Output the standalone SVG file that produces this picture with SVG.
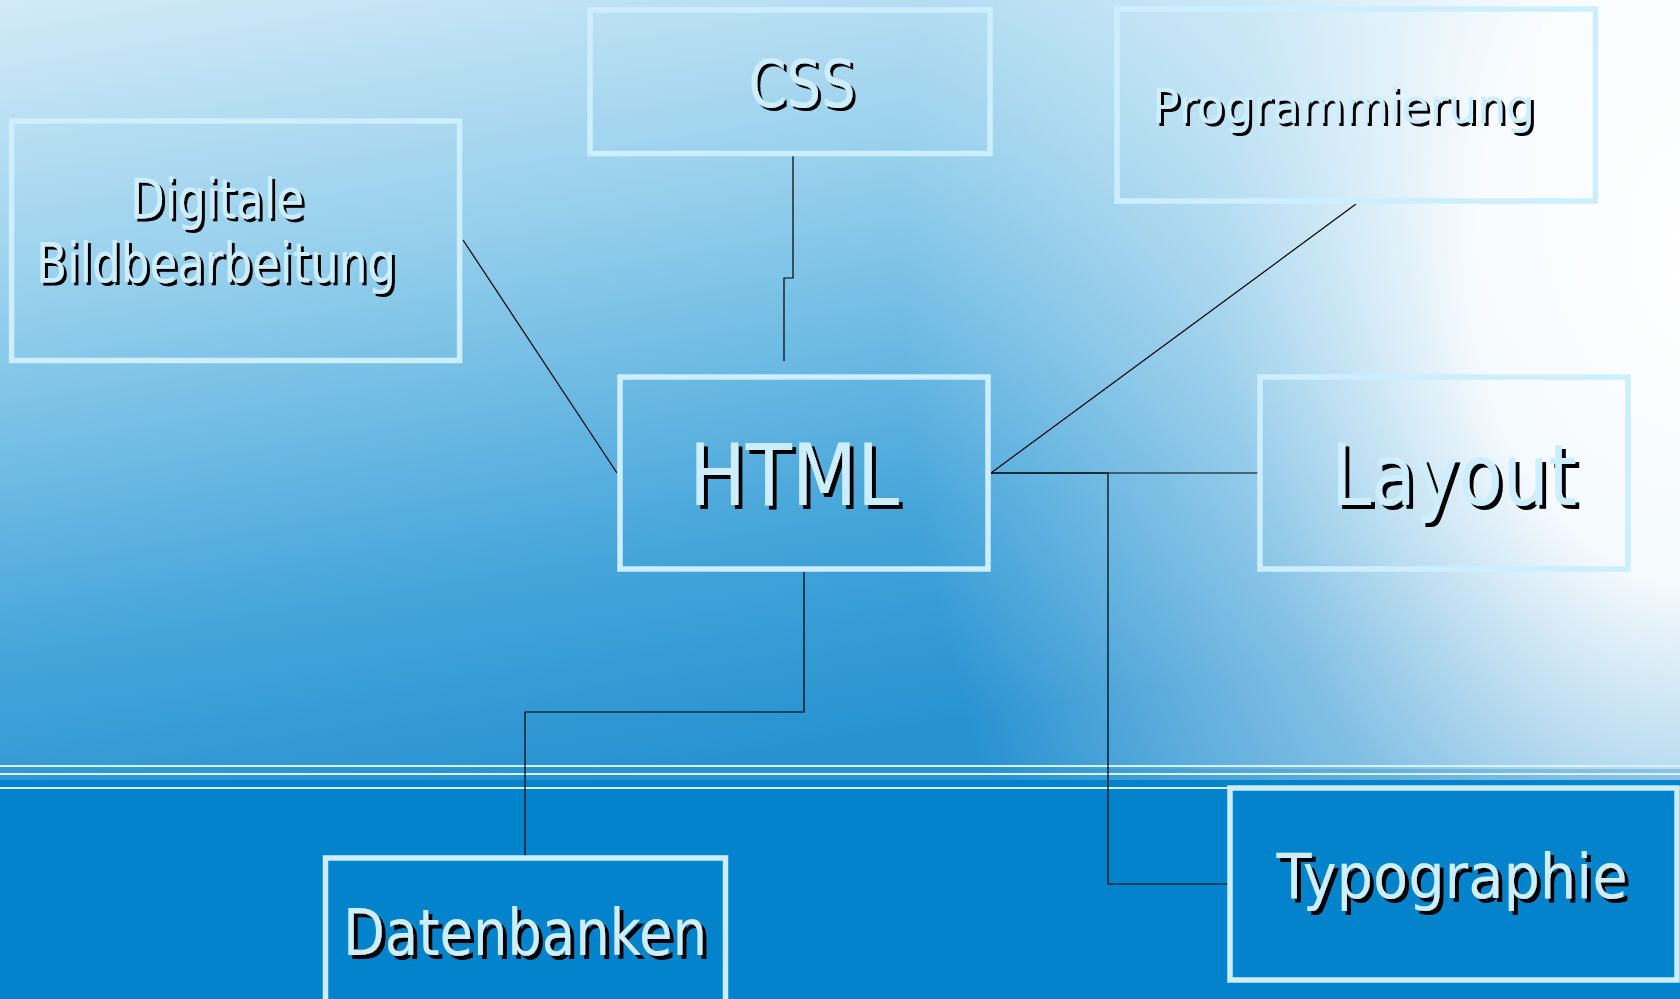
<svg xmlns="http://www.w3.org/2000/svg" width="1680" height="999" viewBox="0 0 1680 999">
<defs>
<linearGradient id="bg" x1="0" y1="0" x2="0.35" y2="1">
<stop offset="0" stop-color="#d2eaf7"/>
<stop offset="0.35" stop-color="#95cfec"/>
<stop offset="0.75" stop-color="#45a5da"/>
<stop offset="1" stop-color="#2892d1"/>
</linearGradient>
<radialGradient id="glow" gradientUnits="userSpaceOnUse" cx="1700" cy="260" r="800" gradientTransform="translate(1700 260) scale(1 1.45) translate(-1700 -260)">
<stop offset="0" stop-color="#ffffff" stop-opacity="1"/>
<stop offset="0.28" stop-color="#ffffff" stop-opacity="0.95"/>
<stop offset="0.6" stop-color="#ffffff" stop-opacity="0.42"/>
<stop offset="1" stop-color="#ffffff" stop-opacity="0"/>
</radialGradient>
<filter id="shadow" x="-10%" y="-30%" width="120%" height="170%">
<feOffset in="SourceAlpha" dx="4" dy="4" result="o"/>
<feMerge><feMergeNode in="o"/><feMergeNode in="SourceGraphic"/></feMerge>
</filter>
<filter id="shadowS" x="-10%" y="-30%" width="120%" height="170%">
<feOffset in="SourceAlpha" dx="3" dy="3" result="o"/>
<feMerge><feMergeNode in="o"/><feMergeNode in="SourceGraphic"/></feMerge>
</filter>
<style>
.box{fill:none;stroke:#cdeeff;stroke-width:5.5}
.lbl{fill:#cdeeff;font-family:"DejaVu Sans","Verdana",sans-serif;text-anchor:middle;filter:url(#shadow)}
.sm{filter:url(#shadowS)}
.con{fill:none;stroke:#000;stroke-width:1.2}
.stripe{stroke:#d6f3fb;stroke-width:2.2}
</style>
</defs>

<g id="background">
<rect x="0" y="0" width="1680" height="782" fill="url(#bg)"/>
<rect x="0" y="0" width="1680" height="782" fill="url(#glow)"/>
<rect x="0" y="780" width="1680" height="219" fill="#0383cb"/>
<rect x="0" y="769" width="1680" height="11" fill="#2a8fcc" opacity="0.35"/>
<line class="stripe" x1="0" y1="766" x2="1680" y2="766"/>
<line class="stripe" x1="0" y1="774" x2="1680" y2="774"/>
<line class="stripe" x1="0" y1="788" x2="1680" y2="788" stroke="#a9e0f2"/>
</g>

<g id="connectors">
<path class="con" d="M463,240 L617,473"/>
<path class="con" d="M793,154 V278 H784 V361"/>
<path class="con" d="M991,473 L1356,204"/>
<path class="con" d="M991,473 H1258"/>
<path class="con" d="M991,473 H1108 V884 H1228"/>
<path class="con" d="M804,572 V712 H525 V856"/>
</g>

<g id="node-digitale">
<rect class="box" x="11.6" y="121" width="448" height="239.5"/>
<text class="lbl sm" x="217" y="218" font-size="55" textLength="174" lengthAdjust="spacingAndGlyphs">Digitale</text>
<text class="lbl sm" x="216" y="282" font-size="55" textLength="360" lengthAdjust="spacingAndGlyphs">Bildbearbeitung</text>
</g>

<g id="node-css">
<rect class="box" x="590" y="10" width="400" height="143.5"/>
<text class="lbl sm" x="802" y="107" font-size="66" textLength="107" lengthAdjust="spacingAndGlyphs">CSS</text>
</g>

<g id="node-programmierung">
<rect class="box" x="1117" y="9" width="478.5" height="192"/>
<text class="lbl sm" x="1343.5" y="123" font-size="48" textLength="383" lengthAdjust="spacingAndGlyphs">Programmierung</text>
</g>

<g id="node-html">
<rect class="box" x="620" y="377" width="368" height="192"/>
<text class="lbl" x="794" y="505" font-size="85" textLength="210" lengthAdjust="spacingAndGlyphs">HTML</text>
</g>

<g id="node-layout">
<rect class="box" x="1260" y="377" width="368" height="192"/>
<text class="lbl" x="1454" y="505" font-size="85" textLength="246" lengthAdjust="spacingAndGlyphs">Layout</text>
</g>

<g id="node-typographie">
<rect class="box" x="1230" y="788" width="447" height="192"/>
<text class="lbl" x="1452" y="898" font-size="62" textLength="351" lengthAdjust="spacingAndGlyphs">Typographie</text>
</g>

<g id="node-datenbanken">
<rect class="box" x="325.5" y="858" width="400" height="146"/>
<text class="lbl" x="525" y="955" font-size="64" textLength="364" lengthAdjust="spacingAndGlyphs">Datenbanken</text>
</g>
</svg>
